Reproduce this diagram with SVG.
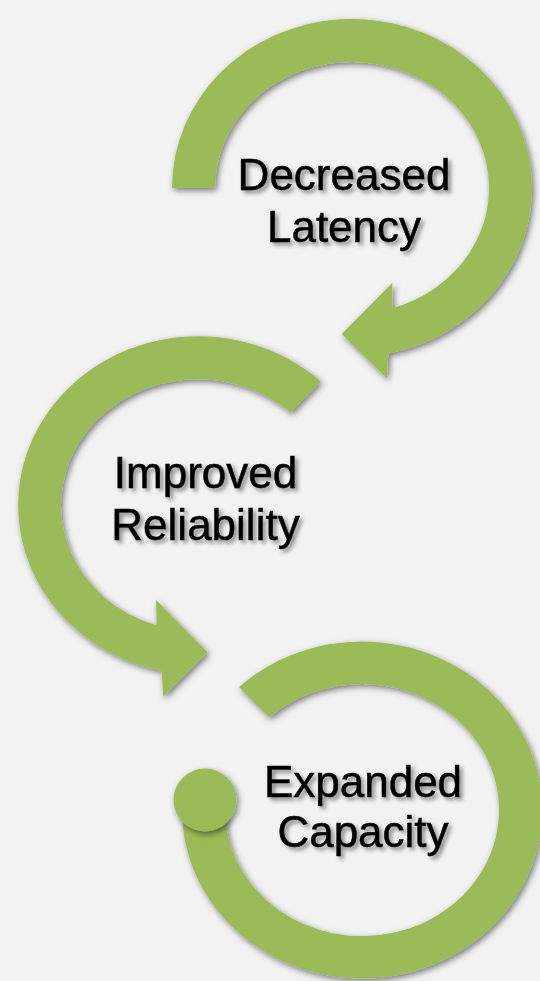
<svg xmlns="http://www.w3.org/2000/svg" width="540" height="981" viewBox="0 0 540 981">
  <style>
    .arc { fill: #9BBB59; filter: url(#shapeShadow); }
    .label { font-family: "Liberation Sans", Arial, sans-serif; font-size: 44px; fill: #000000; stroke: #000000; stroke-width: 0.5px; text-anchor: middle; filter: url(#textShadow); }
  </style>
  <defs>
    <filter id="shapeShadow" x="-20%" y="-20%" width="140%" height="140%">
      <feDropShadow dx="2" dy="2.5" stdDeviation="3" flood-color="#000000" flood-opacity="0.5"/>
    </filter>
    <filter id="textShadow" x="-20%" y="-30%" width="140%" height="160%">
      <feDropShadow dx="3" dy="3" stdDeviation="2" flood-color="#000000" flood-opacity="0.45"/>
    </filter>
  </defs>
  <rect x="0" y="0" width="540" height="981" fill="#F2F2F2"/>

  <g id="connectors">
    <path id="arc-decreased-latency" class="arc" d="M172,188 A180,169 0 1 1 388.3,353.5 L386.7,378.3 L341.7,334 L392.3,282.7 L392.3,308.4 A137,126 0 1 0 215,188 Z"/>
    <path id="arc-improved-reliability" class="arc" d="M320.7,381.4 A180,169 0 1 0 161.7,670.7 L163.3,696.7 L207.7,652.3 L156,600 L156.7,625.4 A137,126 0 1 1 290.7,412.5 Z"/>
    <path id="arc-expanded-capacity" class="arc" d="M239,687 A180,168.5 0 1 1 182,810 L225,810 A137,126 0 1 0 269.3,717.3 Z"/>
    <circle id="arc-expanded-capacity-dot" class="arc" cx="205" cy="800" r="31.5"/>
  </g>

  <g id="node-decreased-latency">
    <text class="label" x="344" y="190">Decreased</text>
    <text class="label" x="344" y="242">Latency</text>
  </g>
  <g id="node-improved-reliability">
    <text class="label" x="205.5" y="488">Improved</text>
    <text class="label" x="205.5" y="540">Reliability</text>
  </g>
  <g id="node-expanded-capacity">
    <text class="label" x="363" y="797">Expanded</text>
    <text class="label" x="363" y="847">Capacity</text>
  </g>
</svg>
